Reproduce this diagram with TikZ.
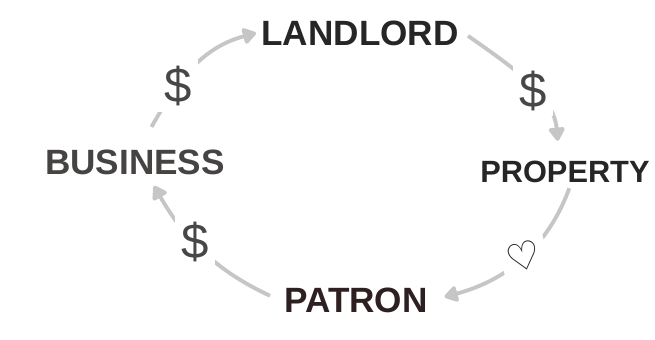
\documentclass[tikz,border=0pt]{standalone}
\usepackage{fontspec}
\setmainfont{Liberation Sans}
\newfontfamily\heartfont{DejaVu Sans}
\usepackage{tikz}
\usetikzlibrary{arrows.meta, positioning}
\definecolor{arrowgray}{HTML}{C6C6C6}
\definecolor{ink}{HTML}{262626}
\definecolor{inkgray}{HTML}{464343}
\definecolor{inkbrown}{HTML}{2E2020}
\tikzstyle{word} = [font=\fontsize{20}{24}\selectfont\bfseries, text=ink, inner sep=1mm]
\tikzstyle{arrow} = [-{Triangle[length=3mm, width=3.6mm, round]}, line width=2.2pt, draw=arrowgray]
\tikzstyle{money} = [font=\fontsize{28}{30}\selectfont, text=ink!85, fill=white, inner sep=1.2mm]
\tikzstyle{love} = [font=\heartfont\fontsize{22}{24}\selectfont, text=ink, fill=white, inner sep=1.2mm, rotate=15]

\begin{document}
\begin{tikzpicture}
    \useasboundingbox (0, 0) rectangle (13.1, 6.78);

    \node (landlord) [word] at (7.2, 6.12) {LANDLORD};
    \node (property) [word, anchor=west, font=\fontsize{17.5}{21}\selectfont\bfseries] at (9.5, 3.34) {PROPERTY};
    \node (business) [word, text=inkgray] at (2.7, 3.54) {BUSINESS};
    \node (patron) [word, text=inkbrown] at (7.12, 0.78) {PATRON};

    \draw [arrow, shorten <=4mm] (business.70) to[out=60, in=195] node[money, pos=0.4] {\$} (landlord.west);
    \draw [arrow, shorten <=1mm, shorten >=3mm] (landlord.east) to[out=-35, in=95] node[money, pos=0.55] {\$} (property.110);
    \draw [arrow, shorten >=2.4mm] (property.-75) to[out=-110, in=15] node[love, pos=0.45] {♡} (patron.east);
    \draw [arrow, shorten <=2mm, shorten >=1.4mm] (patron.west) to[out=155, in=-60] node[money, pos=0.58] {\$} (business.-49);

\end{tikzpicture}
\end{document}
